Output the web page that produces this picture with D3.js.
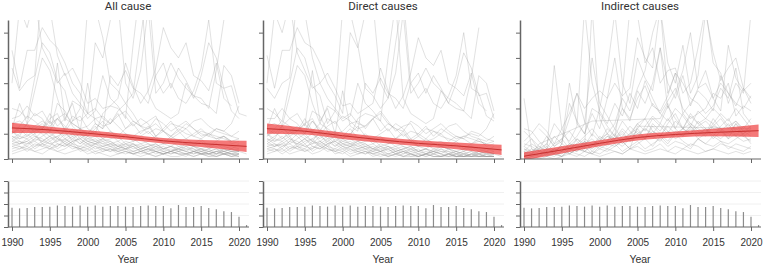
<!DOCTYPE html>
<html>
<head>
<meta charset="utf-8">
<script src="https://cdn.jsdelivr.net/npm/d3@7"></script>
<style>
body { margin: 0; background: #fff; }
svg text { font-family: "Liberation Sans", Arial, sans-serif; }
</style>
</head>
<body>
<svg class="js-chart"></svg>
<script>
/* global d3 */
var years = [1990, 1991, 1992, 1993, 1994, 1995, 1996, 1997, 1998, 1999, 2000,
    2001, 2002, 2003, 2004, 2005, 2006, 2007, 2008, 2009, 2010,
    2011, 2012, 2013, 2014, 2015, 2016, 2017, 2018, 2019, 2020, 2021];
var tickYears = [1990, 1995, 2000, 2005, 2010, 2015, 2020];
var panelTitles = ["All cause", "Direct causes", "Indirect causes"];

// fitted trend + ribbon (in y-tick units)
var trendYears = [1990, 1995, 2000, 2005, 2010, 2015, 2021];
var allCauseFit = [1.23, 1.15, 1.02, 0.88, 0.72, 0.61, 0.50];
var allCauseHalf = [0.20, 0.13, 0.12, 0.11, 0.11, 0.14, 0.22];
var directFit = [1.20, 1.10, 0.92, 0.76, 0.62, 0.52, 0.36];
var directHalf = [0.20, 0.13, 0.13, 0.12, 0.12, 0.13, 0.20];
var indirectFit = [0.11, 0.36, 0.62, 0.85, 0.97, 1.05, 1.12];
var indirectHalf = [0.16, 0.14, 0.12, 0.12, 0.12, 0.15, 0.25];

// countries reporting per year (lower strip)
var reporting = [16.8, 16.2, 16.5, 17.4, 17.4, 17.7, 18.8, 18.3, 17.7, 18.8, 17.7,
    18.8, 17.7, 18.3, 18.3, 17.7, 17.4, 18.3, 18.8, 18.3, 18.3,
    16.2, 19.1, 17.4, 17.4, 18.3, 16.5, 15.4, 13.6, 13.0, 9.0, 1.7];

// one string per country, 1990..2021, tenths of a y tick, "-" = no data
var allCauseSeries = [
    "43 28 43 43 52 47 44 38 30 26 18 46 40 55 62 30 24 35 60 26 30 38 32 28 25 24 20 35 55 - - -",
    "36 27 31 33 70 60 41 33 36 30 22 24 20 21 24 38 29 22 27 36 52 44 40 46 33 31 27 38 24 21 - -",
    "20 19 16 32 46 42 31 27 15 20 60 60 48 30 27 22 26 48 70 32 26 30 24 22 27 36 55 30 28 19 16 -",
    "16 17 21 17 19 14 38 16 22 11 30 14 12 33 29 35 28 26 22 33 38 28 36 31 25 22 21 18 37 33 22 -",
    "12 22 14 27 40 35 24 15 23 21 16 19 33 24 21 16 45 70 26 20 18 16 18 30 24 33 46 40 28 29 18 17",
    "- - - - - 14 16 12 17 15 18 16 13 14 17 19 15 13 12 16 14 11 13 15 12 10 9 12 11 9 8 -",
    "- - 11 13 15 13 16 18 14 12 10 14 12 16 13 10 9 11 12 14 11 9 11 8 10 12 9 8 9 7 - -",
    "30 60 52 64 44 38 30 34 26 22 18 20 16 14 18 12 15 13 10 12 11 9 12 10 9 8 10 9 8 7 - -",
    "14 15 13 11 12 16 18 11 15 17 12 10 18 21 20 17 13 16 14 9 12 15 11 14 12 9 10 12 11 14 21 -",
    "10 13 17 15 12 18 13 16 14 12 13 16 17 14 19 22 18 13 15 17 11 14 13 12 15 16 13 11 10 9 11 -",
    "11 9 14 18 16 11 22 19 13 10 9 12 15 11 9 12 14 10 13 9 11 8 10 12 9 11 10 8 9 7 8 -",
    "9 8 10 7 9 11 8 7 9 6 8 7 5 6 7 5 6 4 5 6 4 5 4 3 5 4 3 4 3 4 3 -",
    "7 9 8 10 6 8 9 11 7 8 6 7 6 5 4 6 5 6 4 3 4 5 3 4 4 3 2 3 4 3 4 -",
    "8 6 7 9 8 6 7 8 10 7 5 6 7 5 6 4 5 3 4 5 3 4 3 5 4 2 3 4 2 3 3 2",
    "6 7 5 8 7 9 6 5 7 8 6 4 5 6 4 5 3 4 5 3 2 3 4 3 2 3 4 2 3 2 3 -",
    "5 6 7 4 6 5 8 6 4 5 7 6 4 3 5 4 3 2 3 4 3 2 3 2 3 2 2 3 2 3 2 -",
    "10 12 9 11 13 10 8 12 9 10 8 9 7 8 9 6 7 8 6 5 6 7 5 6 5 4 5 6 4 5 4 -",
    "4 5 3 5 6 4 5 7 5 4 6 5 3 4 3 4 2 3 2 3 2 3 2 2 3 2 1 2 3 2 2 -",
    "8 10 12 9 7 9 11 8 6 9 7 8 6 7 5 6 4 5 6 4 5 3 4 5 3 4 3 2 4 3 3 -",
    "3 4 5 3 4 5 3 4 6 3 4 2 3 4 2 3 2 3 2 1 2 3 2 2 1 2 2 1 2 1 2 -",
    "6 5 4 6 5 7 4 6 5 4 3 5 4 3 4 3 2 3 4 2 3 2 3 2 3 2 3 2 2 1 2 -",
    "11 8 9 12 10 7 9 6 8 10 7 6 8 7 5 7 6 4 5 6 4 5 4 6 5 3 4 5 3 4 3 -",
    "7 6 8 5 7 6 5 8 6 5 4 6 5 4 3 4 5 3 4 3 2 3 4 3 2 3 2 3 2 2 1 -",
    "2 3 4 3 2 4 3 2 3 4 2 3 2 1 2 3 2 1 2 1 2 1 1 2 1 2 1 1 2 1 1 -",
    "9 7 6 8 11 9 7 10 8 6 9 7 8 6 5 4 6 5 3 5 4 3 5 4 3 4 2 3 3 2 2 -",
    "5 4 6 7 5 4 6 5 7 4 5 3 4 5 3 2 3 4 2 3 2 3 2 1 3 2 2 1 2 2 1 -",
    "- - - 12 14 11 16 13 10 12 9 11 8 10 7 9 8 6 7 9 6 5 7 6 5 7 4 6 5 4 6 -",
    "13 11 14 10 12 15 11 9 12 8 10 13 9 11 8 10 7 9 11 8 6 9 7 8 6 8 5 7 9 6 7 -"
];

var directSeries = [
    "41 28 43 43 52 46 44 38 30 25 18 50 44 58 62 30 24 34 58 26 30 36 30 27 24 22 19 32 52 - - -",
    "28 24 30 32 66 58 40 30 34 28 21 22 18 20 22 36 27 20 25 34 48 40 37 43 30 28 25 34 22 19 - -",
    "20 18 15 30 44 40 29 25 14 19 60 58 45 28 25 20 24 46 65 30 24 28 22 20 25 33 50 28 26 17 15 -",
    "16 16 20 16 18 13 35 15 20 10 27 13 11 30 26 32 26 24 20 30 34 26 33 28 22 20 19 16 33 30 19 -",
    "12 20 13 25 37 33 22 14 21 19 15 17 30 22 19 15 40 62 24 18 16 14 16 27 22 30 42 36 25 26 16 -",
    "- - - - - 12 15 11 16 14 17 15 12 13 16 18 14 12 11 15 13 10 12 14 11 9 8 11 10 8 7 -",
    "30 58 50 62 42 35 28 30 24 20 16 18 14 13 16 11 14 12 9 11 10 8 11 9 8 7 9 8 7 6 - -",
    "13 14 12 10 11 14 16 10 13 15 10 9 16 18 17 15 11 14 12 8 10 13 9 12 10 8 9 10 9 12 18 -",
    "9 12 15 13 11 16 11 14 12 10 11 14 15 12 16 19 15 11 13 14 9 12 11 10 13 14 11 9 8 7 9 -",
    "10 8 13 16 14 10 19 17 11 9 8 10 13 9 8 10 12 8 11 7 9 7 8 10 7 9 8 6 7 6 7 -",
    "8 7 9 6 8 10 7 6 8 5 7 6 4 5 6 4 5 3 4 5 3 4 3 2 4 3 2 3 2 3 2 -",
    "6 8 7 9 5 7 8 10 6 7 5 6 5 4 3 5 4 5 3 2 3 4 2 3 3 2 1 2 3 2 3 -",
    "7 5 6 8 7 5 6 7 9 6 4 5 6 4 5 3 4 2 3 4 2 3 2 4 3 1 2 3 1 2 2 1",
    "5 6 4 7 6 8 5 4 6 7 5 3 4 5 3 4 2 3 4 2 1 2 3 2 1 2 3 1 2 1 2 -",
    "4 5 6 3 5 4 7 5 3 4 6 5 3 2 4 3 2 1 2 3 2 1 2 1 2 1 1 2 1 2 1 -",
    "9 11 8 10 12 9 7 11 8 9 7 8 6 7 8 5 6 7 5 4 5 6 4 5 4 3 4 5 3 4 3 -",
    "3 4 2 4 5 3 4 6 4 3 5 4 2 3 2 3 1 2 1 2 1 2 1 1 2 1 1 1 2 1 1 -",
    "7 9 11 8 6 8 10 7 5 8 6 7 5 6 4 5 3 4 5 3 4 2 3 4 2 3 2 1 3 2 2 -",
    "2 3 4 2 3 4 2 3 5 2 3 1 2 3 1 2 1 2 1 1 1 2 1 1 1 1 1 1 1 1 1 -",
    "5 4 3 5 4 6 3 5 4 3 2 4 3 2 3 2 1 2 3 1 2 1 2 1 2 1 2 1 1 1 1 -",
    "10 7 8 11 9 6 8 5 7 9 6 5 7 6 4 6 5 3 4 5 3 4 3 5 4 2 3 4 2 3 2 -",
    "6 5 7 4 6 5 4 7 5 4 3 5 4 3 2 3 4 2 3 2 1 2 3 2 1 2 1 2 1 1 1 -",
    "8 6 5 7 10 8 6 9 7 5 8 6 7 5 4 3 5 4 2 4 3 2 4 3 2 3 1 2 2 1 1 -",
    "4 3 5 6 4 3 5 4 6 3 4 2 3 4 2 1 2 3 1 2 1 2 1 1 2 1 1 1 1 1 1 -",
    "- - - 11 13 10 15 12 9 11 8 10 7 9 6 8 7 5 6 8 5 4 6 5 4 6 3 5 4 3 5 -",
    "12 10 13 9 11 14 10 8 11 7 9 12 8 10 7 9 6 8 10 7 5 8 6 7 5 7 4 6 8 5 6 -"
];

var indirectSeries = [
    "24 4 2 3 6 12 18 26 15 9 20 35 58 30 22 40 32 27 44 30 24 33 21 28 35 24 30 26 22 20 25 -",
    "- - 12 9 5 8 11 7 4 60 16 10 14 24 19 28 35 50 60 38 30 45 26 33 58 42 31 36 40 28 22 -",
    "12 11 7 4 9 6 22 15 10 20 18 13 9 26 60 57 38 44 30 35 36 26 30 44 60 38 34 22 30 26 58 -",
    "5 8 3 6 14 10 7 13 60 30 19 14 22 17 26 20 31 24 18 23 28 20 16 18 20 26 24 30 17 21 19 -",
    "3 6 4 9 5 7 16 26 20 24 27 24 30 25 28 48 40 36 60 26 34 30 24 22 18 21 28 24 36 18 14 -",
    "4 2 6 - - - - - - 15 - - - - - - - - 16 22 12 18 14 - 10 16 12 8 14 9 11 -",
    "1 2 1 3 2 1 4 3 5 2 4 6 5 7 4 13 - - - - - - - - - - - - - - 12 -",
    "2 4 3 5 2 6 4 3 7 5 8 6 9 7 10 12 8 11 9 13 10 12 14 11 9 13 12 10 14 11 9 -",
    "4 3 5 2 4 3 6 5 4 7 6 9 8 11 7 9 12 10 14 11 9 12 10 13 15 12 11 9 12 10 13 -",
    "3 1 2 4 3 5 2 4 6 8 5 7 10 6 9 11 8 13 10 7 11 9 12 8 10 14 11 8 10 9 7 -",
    "6 5 3 2 4 3 5 8 6 4 7 5 8 10 7 12 16 11 9 14 18 12 10 15 12 9 13 16 11 10 12 -",
    "2 1 0 1 2 1 3 2 1 3 2 4 3 2 4 5 3 4 6 3 5 4 6 5 3 4 6 5 4 3 5 -",
    "1 0 1 2 1 3 2 4 3 2 5 4 6 3 5 7 4 6 8 5 7 6 4 8 6 5 7 4 6 5 4 -",
    "- - - 2 3 1 4 6 3 5 9 7 12 8 10 14 16 22 18 15 20 17 13 19 16 14 18 15 20 16 12 -",
    "0 1 2 1 0 1 2 1 3 2 1 2 3 2 4 3 2 3 4 3 2 4 3 2 3 4 3 2 3 2 3 -",
    "5 3 4 6 3 2 5 4 7 3 6 9 7 5 8 10 12 9 7 11 8 10 13 9 12 10 8 11 9 7 8 -",
    "3 2 4 1 3 5 2 4 3 6 4 3 5 7 4 6 8 5 9 6 10 7 5 8 6 9 7 6 8 10 6 -",
    "7 10 14 11 6 8 4 6 9 12 8 10 6 9 13 10 8 14 11 16 12 9 13 10 12 8 11 14 9 13 10 -",
    "- - - - - - 3 8 5 10 7 12 9 15 11 8 13 17 14 21 16 12 18 14 16 20 17 13 15 12 16 -",
    "1 2 3 2 4 3 6 5 8 6 7 10 8 12 9 14 11 16 13 10 15 12 17 14 11 13 16 12 15 11 13 -",
    "11 8 5 3 37 12 6 9 14 40 22 17 12 20 16 24 29 21 19 25 34 18 22 27 24 19 33 26 21 28 24 -",
    "2 3 1 4 2 6 30 14 10 18 12 24 40 20 15 27 22 30 44 20 26 35 50 28 30 24 19 45 32 27 30 -"
];

var chart = {
    panelLeft: [0, 255, 512],
    top: { y0: 159, y1: 20, max: 5.5 },
    strip: { y0: 227, y1: 181, max: 40 },

    init: function () {
        this.el = d3.select(".js-chart")
            .attr("width", 765)
            .attr("height", 265);

        this.x = d3.scaleLinear().domain([1990, 2020]).range([12, 239]);
        this.yTop = d3.scaleLinear().domain([0, this.top.max]).range([this.top.y0, this.top.y1]);
        this.yStrip = d3.scaleLinear().domain([0, this.strip.max]).range([this.strip.y0, this.strip.y1]);

        this.el.append("defs").append("clipPath")
            .attr("id", "plot-clip")
            .append("rect")
                .attr("x", 8).attr("y", this.top.y1)
                .attr("width", 242).attr("height", this.top.y0 - this.top.y1);

        var panels = [
            { series: allCauseSeries, fit: allCauseFit, half: allCauseHalf },
            { series: directSeries, fit: directFit, half: directHalf },
            { series: indirectSeries, fit: indirectFit, half: indirectHalf }
        ];
        panels.forEach(function (p, i) { this.drawPanel(p, i); }, this);
    },

    parse: function (s) {
        return s.split(" ").map(function (v, i) {
            return { year: years[i], value: v === "-" ? null : +v / 10 };
        }).filter(function (d) { return d.value !== null && d.year !== undefined; });
    },

    drawPanel: function (p, i) {
        var x = this.x, y = this.yTop, ys = this.yStrip;
        var g = this.el.append("g")
            .attr("transform", "translate(" + this.panelLeft[i] + ",0)");

        g.append("text")
            .attr("x", 128).attr("y", 10)
            .attr("text-anchor", "middle")
            .style("font-family", "Roboto, 'Noto Sans', sans-serif")
            .style("font-size", "11.5px")
            .style("fill", "#333")
            .text(panelTitles[i]);

        var plot = g.append("g").attr("clip-path", "url(#plot-clip)");

        var line = d3.line()
            .x(function (d) { return x(d.year); })
            .y(function (d) { return y(d.value); });

        plot.selectAll(".country").data(p.series.map(this.parse))
            .enter().append("path")
                .attr("class", "country")
                .attr("d", line)
                .style("fill", "none")
                .style("stroke", "#999")
                .style("stroke-opacity", 0.45)
                .style("stroke-width", 0.65);

        var trend = trendYears.map(function (yr, k) {
            return { year: yr, fit: p.fit[k], lo: p.fit[k] - p.half[k], hi: p.fit[k] + p.half[k] };
        });

        plot.append("path")
            .datum(trend)
            .attr("d", d3.area()
                .curve(d3.curveMonotoneX)
                .x(function (d) { return x(d.year); })
                .y0(function (d) { return y(d.lo); })
                .y1(function (d) { return y(d.hi); }))
            .style("fill", "#f04545")
            .style("fill-opacity", 0.72);

        plot.append("path")
            .datum(trend)
            .attr("d", d3.line()
                .curve(d3.curveMonotoneX)
                .x(function (d) { return x(d.year); })
                .y(function (d) { return y(d.fit); }))
            .style("fill", "none")
            .style("stroke", "#c8302f")
            .style("stroke-width", 1);

        // top axes
        var yAxis = g.append("g")
            .attr("transform", "translate(8,0)")
            .call(d3.axisLeft(y).tickValues([0, 1, 2, 3, 4, 5]).tickSize(4).tickSizeOuter(0).tickFormat(""));
        this.styleAxis(yAxis);

        var xAxisTop = g.append("g")
            .attr("transform", "translate(0," + this.top.y0 + ")")
            .call(d3.axisBottom(x).tickValues(tickYears).tickSize(4).tickSizeOuter(0).tickFormat(""));
        this.styleAxis(xAxisTop);
        xAxisTop.select(".domain").remove();
        g.append("line")
            .attr("x1", 8).attr("x2", 249)
            .attr("y1", this.top.y0).attr("y2", this.top.y0)
            .style("stroke", "#666").style("stroke-width", 1);

        // lower strip: countries reporting
        g.selectAll(".grid").data([10, 20, 30, 40])
            .enter().append("line")
                .attr("class", "grid")
                .attr("x1", 8).attr("x2", 249)
                .attr("y1", ys).attr("y2", ys)
                .style("stroke", "#ececec").style("stroke-width", 0.8);

        g.selectAll(".bar").data(reporting)
            .enter().append("line")
                .attr("class", "bar")
                .attr("x1", function (d, k) { return x(years[k]); })
                .attr("x2", function (d, k) { return x(years[k]); })
                .attr("y1", ys(0))
                .attr("y2", function (d) { return ys(d); })
                .style("stroke", "#8c8c8c")
                .style("stroke-width", 1.2);

        var yAxisStrip = g.append("g")
            .attr("transform", "translate(8,0)")
            .call(d3.axisLeft(ys).tickValues([0, 10, 20, 30, 40]).tickSize(4).tickSizeOuter(0).tickFormat(""));
        this.styleAxis(yAxisStrip);

        var xAxis = g.append("g")
            .attr("transform", "translate(0," + this.strip.y0 + ")")
            .call(d3.axisBottom(x).tickValues(tickYears).tickSize(4).tickSizeOuter(0).tickFormat(d3.format("d")));
        this.styleAxis(xAxis);
        xAxis.select(".domain").remove();
        xAxis.selectAll("text")
            .attr("y", 12)
            .style("font-size", "10px")
            .style("fill", "#333");
        g.append("line")
            .attr("x1", 8).attr("x2", 249)
            .attr("y1", this.strip.y0).attr("y2", this.strip.y0)
            .style("stroke", "#666").style("stroke-width", 1);

        g.append("text")
            .attr("x", 128).attr("y", 263)
            .attr("text-anchor", "middle")
            .style("font-size", "10.5px")
            .style("fill", "#333")
            .text("Year");
    },

    styleAxis: function (sel) {
        sel.select(".domain").style("stroke", "#666").style("stroke-width", 1.5);
        sel.selectAll(".tick line").style("stroke", "#666").style("stroke-width", 1);
    }
};

chart.init();
</script>
</body>
</html>
